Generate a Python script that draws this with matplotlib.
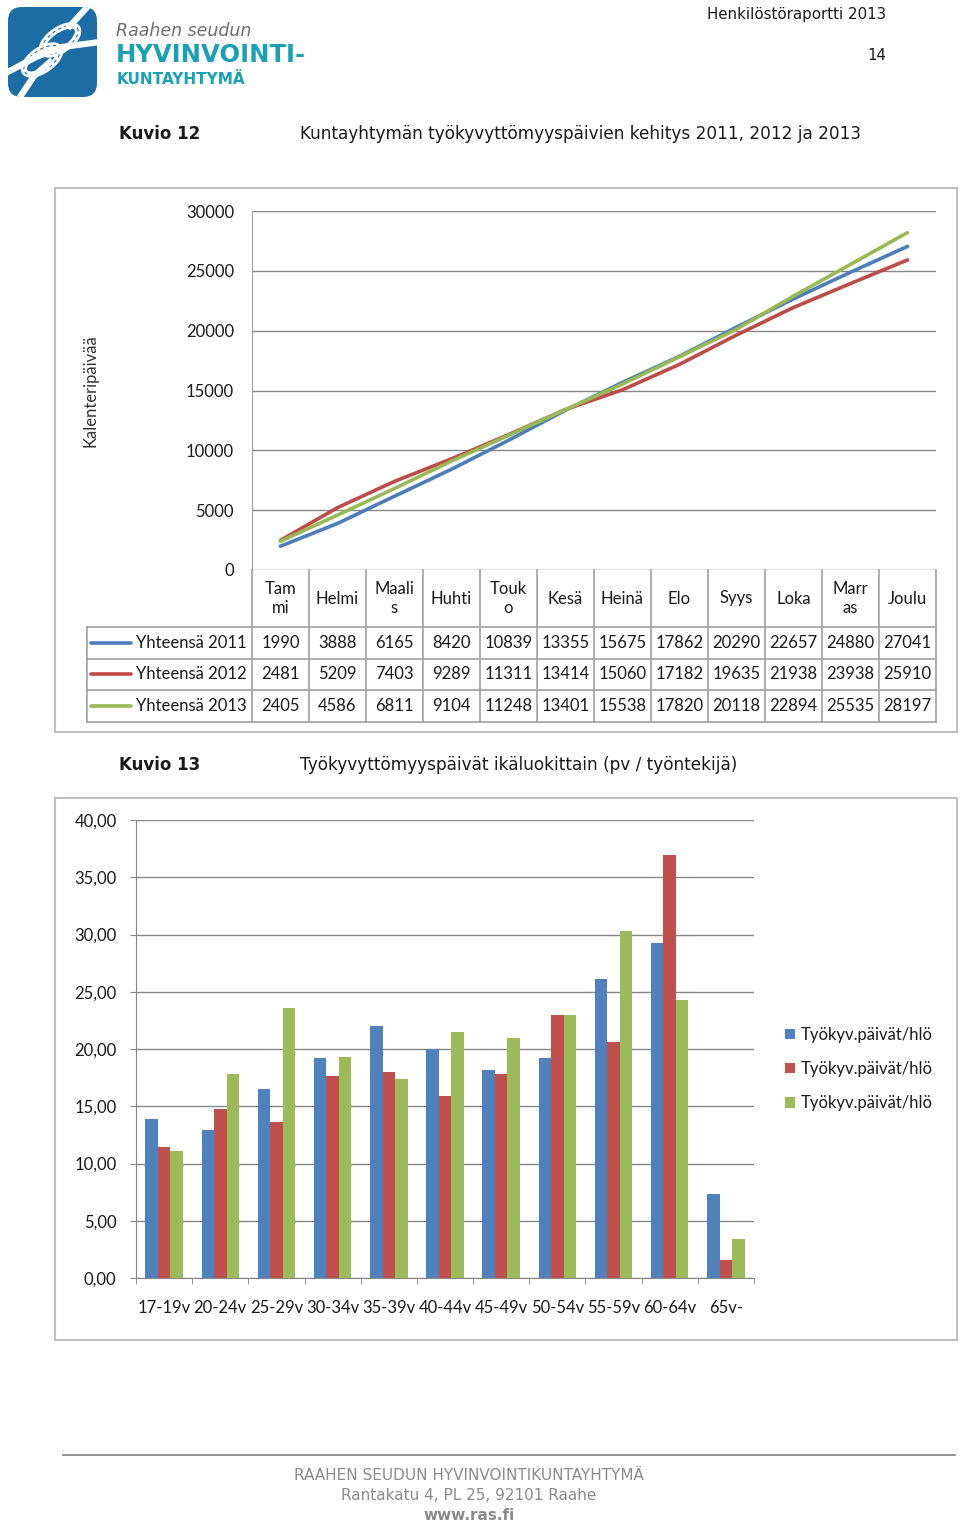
import numpy as np
import matplotlib
matplotlib.use("Agg")
import matplotlib.pyplot as plt
import matplotlib.patches as patches

# ── Data ────────────────────────────────────────────────────
months = ["Tam\nmi", "Helmi", "Maali\ns", "Huhti", "Touk\no", "Kesä",
          "Heinä", "Elo", "Syys", "Loka", "Marr\nas", "Joulu"]
series_names = ["Yhteensä 2011", "Yhteensä 2012", "Yhteensä 2013"]
days_2011 = [1990, 3888, 6165, 8420, 10839, 13355, 15675, 17862, 20290, 22657, 24880, 27041]
days_2012 = [2481, 5209, 7403, 9289, 11311, 13414, 15060, 17182, 19635, 21938, 23938, 25910]
days_2013 = [2405, 4586, 6811, 9104, 11248, 13401, 15538, 17820, 20118, 22894, 25535, 28197]

age_groups = ["17-19v", "20-24v", "25-29v", "30-34v", "35-39v", "40-44v",
              "45-49v", "50-54v", "55-59v", "60-64v", "65v-"]
bar_label = "Työkyv.päivät/hlö"
per_emp_a = [13.9, 12.9, 16.5, 19.2, 22.0, 20.0, 18.2, 19.2, 26.1, 29.3, 7.3]
per_emp_b = [11.4, 14.8, 13.6, 17.6, 18.0, 15.9, 17.8, 23.0, 20.6, 36.9, 1.6]
per_emp_c = [11.1, 17.8, 23.6, 19.3, 17.4, 21.5, 21.0, 23.0, 30.3, 24.3, 3.4]

# ── Page setup (pixel coordinates) ──────────────────────────
W, H = 960, 1525
fig = plt.figure(figsize=(W / 100, H / 100), dpi=100)
fig.patch.set_facecolor("white")

page = fig.add_axes([0, 0, 1, 1])
page.set_xlim(0, W)
page.set_ylim(H, 0)
page.axis("off")
page.set_zorder(0)


def px_axes(left, top, right, bottom):
    a = fig.add_axes([left / W, 1 - bottom / H, (right - left) / W, (bottom - top) / H])
    a.set_facecolor("none")
    a.set_zorder(2)
    return a


CHART_FONT = "Lato"
HEAD_FONT = "DejaVu Sans"
GRID = "#868686"
TXT = "#1a1a1a"
line_colors = ["#4A7EBB", "#BE4B48", "#98B954"]
bar_colors = ["#4F81BD", "#C0504D", "#9BBB59"]

# ── Logo ────────────────────────────────────────────────────
logo_blue = "#1C6DA6"
teal = "#1AA0B4"
box = patches.FancyBboxPatch((12, 11), 81, 82, boxstyle="round,pad=4,rounding_size=14",
                             facecolor=logo_blue, edgecolor="none")
page.add_patch(box)
knot = []
t = np.linspace(0, 2 * np.pi, 200)
for cx, cy in [(60, 40), (42, 60)]:
    ex = 21 * np.cos(t)
    ey = 10 * np.sin(t)
    ang = np.deg2rad(-35)
    xs = cx + ex * np.cos(ang) - ey * np.sin(ang)
    ys = cy + ex * np.sin(ang) + ey * np.cos(ang)
    knot += page.plot(xs, ys, color="white", lw=4.5, solid_capstyle="round")
    knot += page.plot(xs, ys, color=logo_blue, lw=0.8, ls=(0, (3, 3)))
knot += page.plot([4, 36, 62, 100], [74, 57, 47, 42], color="white", lw=4.5)
knot += page.plot([18, 34, 50], [100, 76, 62], color="white", lw=4.5)
knot += page.plot([70, 80, 90], [26, 15, 4], color="white", lw=4.5)
for ln in knot:
    ln.set_clip_path(box)

page.text(116, 31, "Raahen seudun", fontsize=12.5, fontstyle="italic", color="#6e6e6e",
          family="DejaVu Sans", va="center", ha="left")
page.text(116, 55, "HYVINVOINTI-", fontsize=17.5, fontweight="bold", color=teal,
          family="DejaVu Sans", va="center", ha="left")
page.text(117, 79, "KUNTAYHTYMÄ", fontsize=11, fontweight="bold", color=teal,
          family="DejaVu Sans", va="center", ha="left")

# ── Header ──────────────────────────────────────────────────
page.text(886, 15, "Henkilöstöraportti 2013", fontsize=10.8, family=HEAD_FONT, color=TXT,
          ha="right", va="center")
page.text(886, 55, "14", fontsize=10.8, family=HEAD_FONT, color=TXT, ha="right", va="center")

page.text(119, 134, "Kuvio 12", fontsize=12, fontweight="bold", family=HEAD_FONT, color=TXT,
          va="center")
page.text(300, 134, "Kuntayhtymän työkyvyttömyyspäivien kehitys 2011, 2012 ja 2013",
          fontsize=12.2, family=HEAD_FONT, color=TXT, va="center")

# ── Chart 1: line chart with data table ─────────────────────
page.add_patch(patches.Rectangle((55, 188), 902, 544, fill=False, edgecolor="#BFBFBF", lw=1.5))

L1, R1, T1, B1 = 252, 936, 211, 570
ax1 = px_axes(L1, T1, R1, B1)
xm = np.arange(len(months))
for vals, c in zip([days_2011, days_2012, days_2013], line_colors):
    ax1.plot(xm, vals, color=c, lw=2.6, solid_capstyle="round", zorder=3)
ax1.set_xlim(-0.5, len(months) - 0.5)
ax1.set_ylim(0, 30000)
ax1.set_yticks(np.arange(0, 30001, 5000))
ax1.set_xticks([])
ax1.grid(axis="y", color=GRID, lw=1)
ax1.tick_params(axis="y", length=0, pad=13, labelsize=12, labelcolor=TXT)
for lab in ax1.get_yticklabels():
    lab.set_family(CHART_FONT)
for s in ["top", "right", "bottom"]:
    ax1.spines[s].set_visible(False)
ax1.spines["left"].set_color("#A0A0A0")
ax1.set_ylabel("Kalenteripäivää", fontsize=12, family=CHART_FONT, color="#333333")
ax1.yaxis.set_label_coords((99 - L1) / (R1 - L1), 0.5)

# table under the line chart
cw = (R1 - L1) / len(months)
tcol = "#A0A0A0"
row_edges = [627, 658.5, 690, 722]
for i in range(len(months) + 1):
    page.plot([L1 + i * cw] * 2, [B1, row_edges[-1]], color=tcol, lw=1.2)
for y in row_edges:
    page.plot([87, R1], [y, y], color=tcol, lw=1.2)
page.plot([87, 87], [row_edges[0], row_edges[-1]], color=tcol, lw=1.2)
for i, m in enumerate(months):
    page.text(L1 + (i + 0.5) * cw, (B1 + row_edges[0]) / 2, m, ha="center", va="center",
              fontsize=12, family=CHART_FONT, color=TXT, linespacing=1.3)
for r, (name, vals, c) in enumerate(zip(series_names, [days_2011, days_2012, days_2013], line_colors)):
    yc = (row_edges[r] + row_edges[r + 1]) / 2
    page.plot([91, 131], [yc, yc], color=c, lw=2.6, solid_capstyle="round")
    page.text(247, yc, name, ha="right", va="center", fontsize=12, family=CHART_FONT, color=TXT)
    for i, v in enumerate(vals):
        page.text(L1 + (i + 0.5) * cw, yc, str(v), ha="center", va="center",
                  fontsize=12, family=CHART_FONT, color=TXT)

# ── Chart 2: grouped bars ───────────────────────────────────
page.text(119, 765, "Kuvio 13", fontsize=12, fontweight="bold", family=HEAD_FONT, color=TXT,
          va="center")
page.text(300, 765, "Työkyvyttömyyspäivät ikäluokittain (pv / työntekijä)",
          fontsize=12.2, family=HEAD_FONT, color=TXT, va="center")
page.add_patch(patches.Rectangle((55, 798), 902, 542, fill=False, edgecolor="#BFBFBF", lw=1.5))

L2, R2, T2, B2 = 136, 754, 820, 1278
ax2 = px_axes(L2, T2, R2, B2)
xg = np.arange(len(age_groups))
bw = 1 / 4.5
for k, (vals, c) in enumerate(zip([per_emp_a, per_emp_b, per_emp_c], bar_colors)):
    ax2.bar(xg + (k - 1) * bw, vals, width=bw, color=c, label=bar_label, zorder=3)
ax2.set_xlim(-0.5, len(age_groups) - 0.5)
ax2.set_ylim(0, 40)
ax2.set_yticks(np.arange(0, 40.1, 5))
ax2.set_yticklabels([f"{v:.2f}".replace(".", ",") for v in np.arange(0, 40.1, 5)])
ax2.set_xticks(xg)
ax2.set_xticklabels(age_groups)
ax2.set_xticks(np.arange(-0.5, len(age_groups)), minor=True)
ax2.tick_params(axis="x", which="major", length=0, pad=16, labelsize=12, labelcolor=TXT)
ax2.tick_params(axis="x", which="minor", length=4, color=GRID, direction="out")
ax2.tick_params(axis="y", length=4, color=GRID, pad=10, labelsize=12, labelcolor=TXT)
for lab in ax2.get_yticklabels() + ax2.get_xticklabels():
    lab.set_family(CHART_FONT)
ax2.grid(axis="y", color=GRID, lw=1, zorder=0)
ax2.set_axisbelow(True)
for s in ["top", "right"]:
    ax2.spines[s].set_visible(False)
ax2.spines["left"].set_color(GRID)
ax2.spines["bottom"].set_color(GRID)

leg = ax2.legend(loc="center left", bbox_to_anchor=(770 / W, 1 - 1069 / H),
                 bbox_transform=fig.transFigure, frameon=False,
                 prop={"family": CHART_FONT, "size": 12},
                 handlelength=0.6, handleheight=0.6, handletextpad=0.35, labelspacing=1.1)
for tx in leg.get_texts():
    tx.set_color(TXT)

# ── Footer ──────────────────────────────────────────────────
page.plot([63, 955], [1455, 1455], color="#7f7f7f", lw=1.2)
foot = "#8a8a8a"
page.text(469, 1476, "RAAHEN SEUDUN HYVINVOINTIKUNTAYHTYMÄ", ha="center", va="center",
          fontsize=11, family=HEAD_FONT, color=foot)
page.text(469, 1496, "Rantakatu 4, PL 25, 92101 Raahe", ha="center", va="center",
          fontsize=11, family=HEAD_FONT, color=foot)
page.text(469, 1516, "www.ras.fi", ha="center", va="center",
          fontsize=11, fontweight="bold", family=HEAD_FONT, color=foot)

fig.savefig("out.png", dpi=100)
